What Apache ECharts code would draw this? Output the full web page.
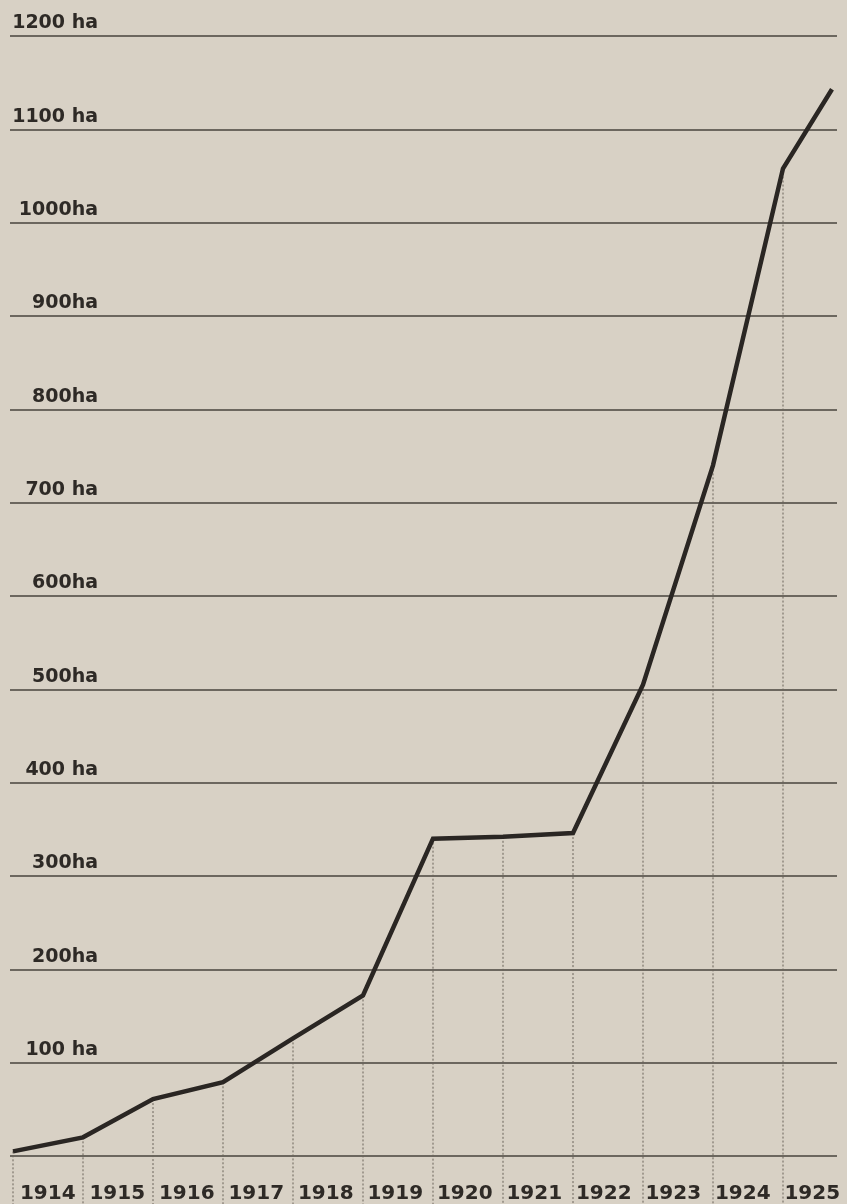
<!DOCTYPE html>
<html>
<head>
<meta charset="utf-8">
<script src="https://cdn.jsdelivr.net/npm/echarts@6/dist/echarts.min.js"></script>
<style>
  html, body { margin: 0; padding: 0; background: #d8d1c5; }
  #chart { width: 847px; height: 1204px; }
</style>
</head>
<body>
<div id="chart"></div>
<script>
// Positions on the time axis (start of each year, last one is mid-1925)
var yearMarks = [1914, 1915, 1916, 1917, 1918, 1919, 1920, 1921, 1922, 1923, 1924, 1925, 1925.7];
// Area in hectares at each mark
var areaHa = [5, 20, 61, 79, 126, 172, 340, 342, 346, 505, 740, 1058, 1143];
var yearLabels = ["1914", "1915", "1916", "1917", "1918", "1919", "1920", "1921", "1922", "1923", "1924", "1925"];
var tickLabels = ["", "100 ha", "200ha", "300ha", "400 ha", "500ha", "600ha", "700 ha", "800ha", "900ha", "1000ha", "1100 ha", "1200 ha"];

var lineData = [];
for (var i = 0; i < yearMarks.length; i++) {
  lineData.push([yearMarks[i], areaHa[i]]);
}
// dotted drop lines only at whole years
var dropData = lineData.filter(function (d) { return d[0] % 1 === 0; });

var myChart = echarts.init(document.getElementById("chart"));
var font = "DejaVu Sans";
var option = {
  backgroundColor: "#d8d1c5",
  animation: false,
  grid: [
    { left: 10, right: 10, top: 36, bottom: 48 },
    { left: 13, right: -6, top: 1100, bottom: 22 }
  ],
  xAxis: [
    {
      type: "value",
      gridIndex: 0,
      min: 1914 - 3 / 70,
      max: 1914 - 3 / 70 + 827 / 70,
      axisLine: { show: false },
      axisTick: { show: false },
      axisLabel: { show: false },
      splitLine: { show: false }
    },
    {
      type: "category",
      gridIndex: 1,
      data: yearLabels,
      boundaryGap: true,
      axisLine: { show: false },
      axisTick: { show: false },
      axisLabel: {
        interval: 0,
        margin: 4,
        verticalAlign: "top",
        color: "#2e2a26",
        fontFamily: font,
        fontWeight: "bold",
        fontSize: 20
      }
    }
  ],
  yAxis: [
    {
      type: "value",
      gridIndex: 0,
      min: 0,
      max: 1200,
      interval: 100,
      axisLine: { show: false },
      axisTick: { show: false },
      axisLabel: {
        inside: true,
        margin: 88,
        align: "right",
        verticalAlign: "bottom",
        padding: [0, 0, 3, 0],
        color: "#2e2a26",
        fontFamily: font,
        fontWeight: "bold",
        fontSize: 19,
        formatter: function (v) {
          return tickLabels[Math.round(v / 100)];
        }
      },
      splitLine: {
        lineStyle: { color: "#48433d", width: 1.5 }
      }
    },
    {
      type: "value",
      gridIndex: 1,
      show: false
    }
  ],
  series: [
    {
      type: "custom",
      xAxisIndex: 0,
      yAxisIndex: 0,
      clip: false,
      silent: true,
      data: dropData,
      renderItem: function (params, api) {
        var p = api.coord([api.value(0), api.value(1)]);
        return {
          type: "line",
          shape: { x1: p[0], y1: p[1], x2: p[0], y2: api.getHeight() },
          style: { stroke: "#6a645b", lineWidth: 1, lineDash: [2, 2] }
        };
      }
    },
    {
      type: "line",
      xAxisIndex: 0,
      yAxisIndex: 0,
      data: lineData,
      showSymbol: false,
      symbol: "none",
      lineStyle: { color: "#2a2623", width: 4.5, join: "miter" },
      z: 5
    }
  ]
};
myChart.setOption(option);
</script>
</body>
</html>
